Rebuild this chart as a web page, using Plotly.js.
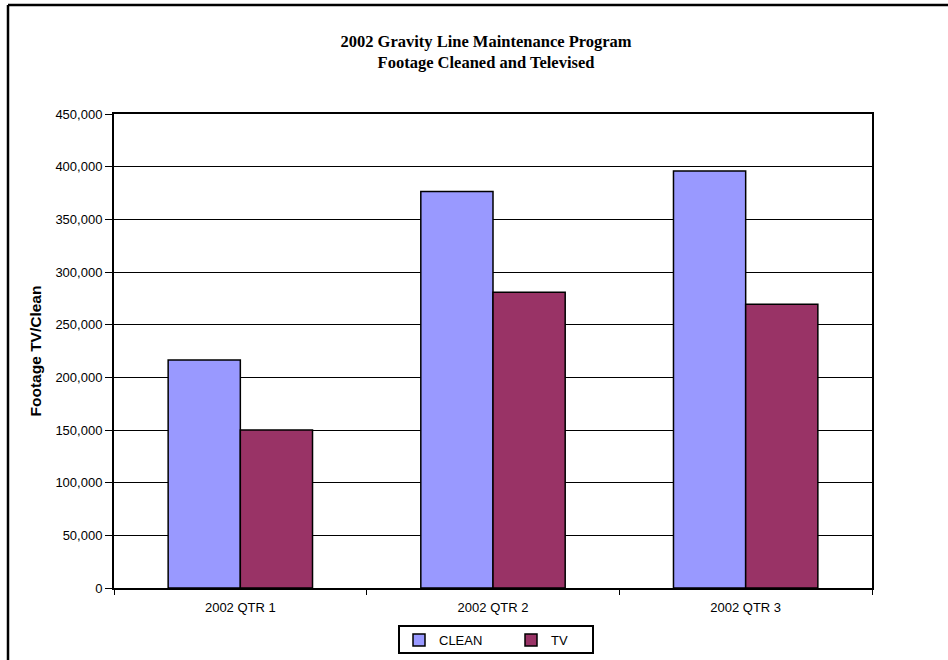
<!DOCTYPE html>
<html>
<head>
<meta charset="utf-8">
<script src="https://cdn.plot.ly/plotly-3.0.1.min.js"></script>
<style>
html,body{margin:0;padding:0;background:#fff;}
#chart{width:948px;height:660px;}
</style>
</head>
<body>
<div id="chart"></div>
<script>
const categories = ["2002 QTR 1", "2002 QTR 2", "2002 QTR 3"];
const cleanValues = [216500, 376500, 396000];
const tvValues = [150000, 280700, 269400];
const seriesNames = ["CLEAN", "TV"];

const L = 114, R = 872, T = 114, B = 588, W = 948, H = 660;
const px = x => (x - L) / (R - L);
const py = y => (B - y) / (B - T);

const traces = [
  {type: "bar", name: seriesNames[0], x: categories, y: cleanValues,
   marker: {color: "#9999FF", line: {color: "#000", width: 1.5}}},
  {type: "bar", name: seriesNames[1], x: categories, y: tvValues,
   marker: {color: "#993366", line: {color: "#000", width: 1.5}}}
];

const layout = {
  width: W, height: H,
  margin: {l: L, r: W - R, t: T, b: H - B, pad: 0, autoexpand: false},
  paper_bgcolor: "#fff", plot_bgcolor: "#fff",
  font: {family: "Liberation Sans, Arial, sans-serif", size: 13, color: "#000"},
  title: {
    text: "<b>2002 Gravity Line Maintenance Program<br>Footage Cleaned and Televised</b>",
    font: {family: "Liberation Serif, Times New Roman, serif", size: 16.5, color: "#000"},
    x: 486 / W, xanchor: "center", y: 1 - 47 / H, yanchor: "middle"
  },
  barmode: "group", bargap: 0.4286, bargroupgap: 0,
  showlegend: true,
  legend: {
    orientation: "h", x: px(399), xanchor: "left", y: py(640), yanchor: "middle",
    borderwidth: 0, bgcolor: "rgba(0,0,0,0)",
    font: {size: 13}, entrywidth: 67, traceorder: "normal"
  },
  xaxis: {
    type: "category", showgrid: false, showline: true, linecolor: "#000", linewidth: 2,
    mirror: true, ticks: "outside", tickson: "boundaries", ticklen: 5, tickcolor: "#000",
    tickfont: {size: 13}, ticklabelstandoff: 6, fixedrange: true
  },
  yaxis: {
    range: [0, 450000], tick0: 0, dtick: 50000, tickformat: ",d",
    showgrid: true, gridcolor: "#000", gridwidth: 1,
    showline: true, linecolor: "#000", linewidth: 2, mirror: true,
    ticks: "outside", ticklen: 7, tickcolor: "#000", zeroline: false,
    tickfont: {size: 13},
    title: {text: "<b>Footage TV/Clean</b>", font: {size: 15.5}, standoff: 10},
    fixedrange: true
  },
  shapes: [
    {type: "line", xref: "paper", yref: "paper", x0: px(8), x1: px(948), y0: py(5), y1: py(5),
     line: {color: "#000", width: 2.5}},
    {type: "line", xref: "paper", yref: "paper", x0: px(8), x1: px(8), y0: py(5), y1: py(660),
     line: {color: "#000", width: 2.5}},
    {type: "rect", xref: "paper", yref: "paper", x0: px(399), x1: px(593), y0: py(626), y1: py(653),
     line: {color: "#000", width: 2}, fillcolor: "rgba(0,0,0,0)"}
  ]
};

Plotly.newPlot("chart", traces, layout, {displayModeBar: false, staticPlot: true});
</script>
</body>
</html>
